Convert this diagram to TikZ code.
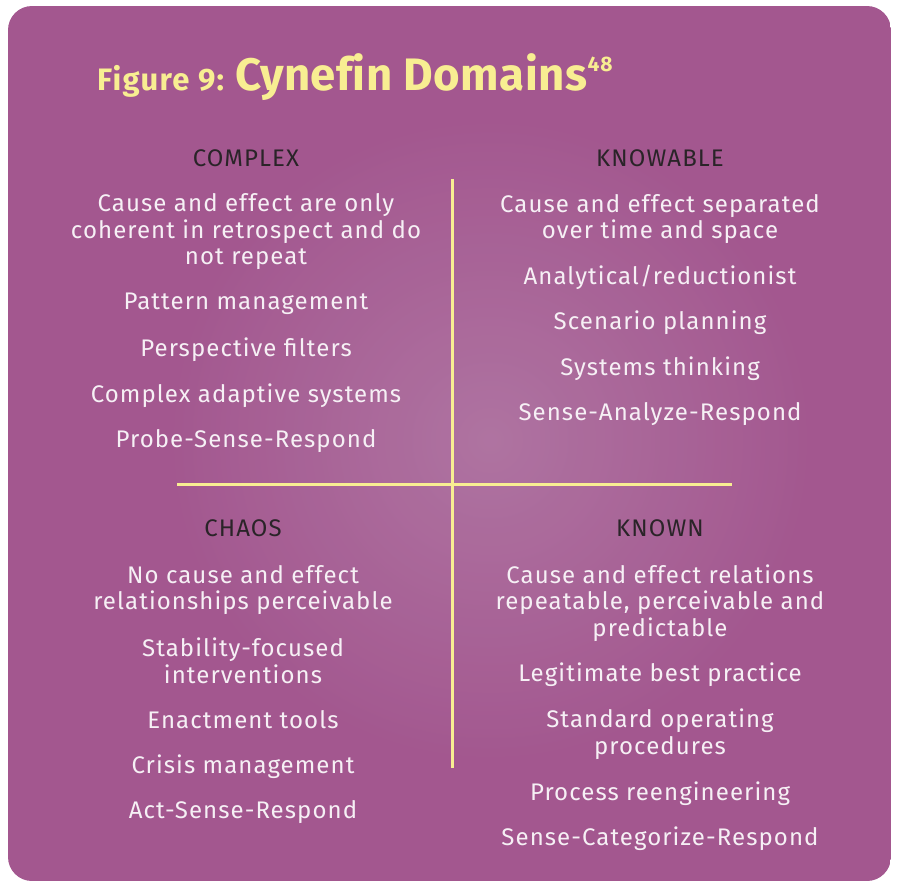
\documentclass[tikz,border=0pt]{standalone}
\usepackage{fontspec}
\setmainfont{Fira Sans}
\usetikzlibrary{shadings}
\definecolor{plum}{HTML}{A3578F}
\definecolor{plumlight}{HTML}{B27BA6}
\definecolor{pale}{HTML}{F8EE92}
\definecolor{ink}{HTML}{2A2428}
\definecolor{chalk}{HTML}{F6F0F5}
\newcommand{\bodyfont}{\fontsize{24}{26.5}\selectfont\addfontfeatures{LetterSpace=4.5}}
\tikzset{
  item/.style={text=chalk, align=center, inner sep=0pt, font=\bodyfont},
  head/.style={text=ink, inner sep=0pt, font=\bodyfont},
  rule/.style={draw=pale, line width=3pt},
}
\begin{document}
\begin{tikzpicture}[x=1pt,y=-1pt]
\useasboundingbox (0,0) rectangle (897,884);
% panel
\begin{scope}
  \clip[rounded corners=24pt] (8,6) rectangle (891,881);
  \fill[plum] (8,6) rectangle (891,881);
  \shade[inner color=plumlight, outer color=plum, opacity=0.8] (490,440) circle (330);
\end{scope}
% title
\node[anchor=base west, inner sep=0pt, text=pale, font=\bfseries] (title) at (97,90)
  {{\fontsize{31}{31}\selectfont\addfontfeatures{LetterSpace=4}Figure 9: }%
   {\fontsize{45.5}{45.5}\selectfont\addfontfeatures{LetterSpace=1.2}Cynef\kern0pt in Domains}%
   \raisebox{19pt}{\fontsize{21}{21}\selectfont\addfontfeatures{LetterSpace=4}48}};
% dividing cross
\coordinate (vtop) at (452,179);
\coordinate (vbot) at (452,768);
\coordinate (hleft) at (177,484);
\coordinate (hright) at (732,484);
\draw[rule] (vtop) -- (vbot);
\draw[rule] (hleft) -- (hright);
% complex
\node[head] (complex) at (246,158) {COMPLEX};
\node[item] (cx1) at (246,232) {Cause and effect are only\\coherent in retrospect and do\\not repeat};
\node[item] (cx2) at (246,304) {Pattern management};
\node[item] (cx3) at (246,350) {Perspective filters};
\node[item] (cx4) at (246,396) {Complex adaptive systems};
\node[item] (cx5) at (246,441) {Probe-Sense-Respond};
% knowable
\node[head] (knowable) at (660,158) {KNOWABLE};
\node[item] (kb1) at (660,219) {Cause and effect separated\\over time and space};
\node[item] (kb2) at (660,277) {Analytical/reductionist};
\node[item] (kb3) at (660,323) {Scenario planning};
\node[item] (kb4) at (660,369) {Systems thinking};
\node[item] (kb5) at (660,414) {Sense-Analyze-Respond};
% chaos
\node[head] (chaos) at (243,528) {CHAOS};
\node[item] (ch1) at (243,590) {No cause and effect\\relationships perceivable};
\node[item] (ch2) at (243,661) {Stability-focused\\interventions};
\node[item] (ch3) at (243,720) {Enactment tools};
\node[item] (ch4) at (243,767) {Crisis management};
\node[item] (ch5) at (243,812) {Act-Sense-Respond};
% known
\node[head] (known) at (660,528) {KNOWN};
\node[item] (kn1) at (660,603) {Cause and effect relations\\repeatable, perceivable and\\predictable};
\node[item] (kn2) at (660,675) {Legitimate best practice};
\node[item] (kn3) at (660,734) {Standard operating\\procedures};
\node[item] (kn4) at (660,794) {Process reengineering};
\node[item] (kn5) at (660,839) {Sense-Categorize-Respond};
\end{tikzpicture}
\end{document}
